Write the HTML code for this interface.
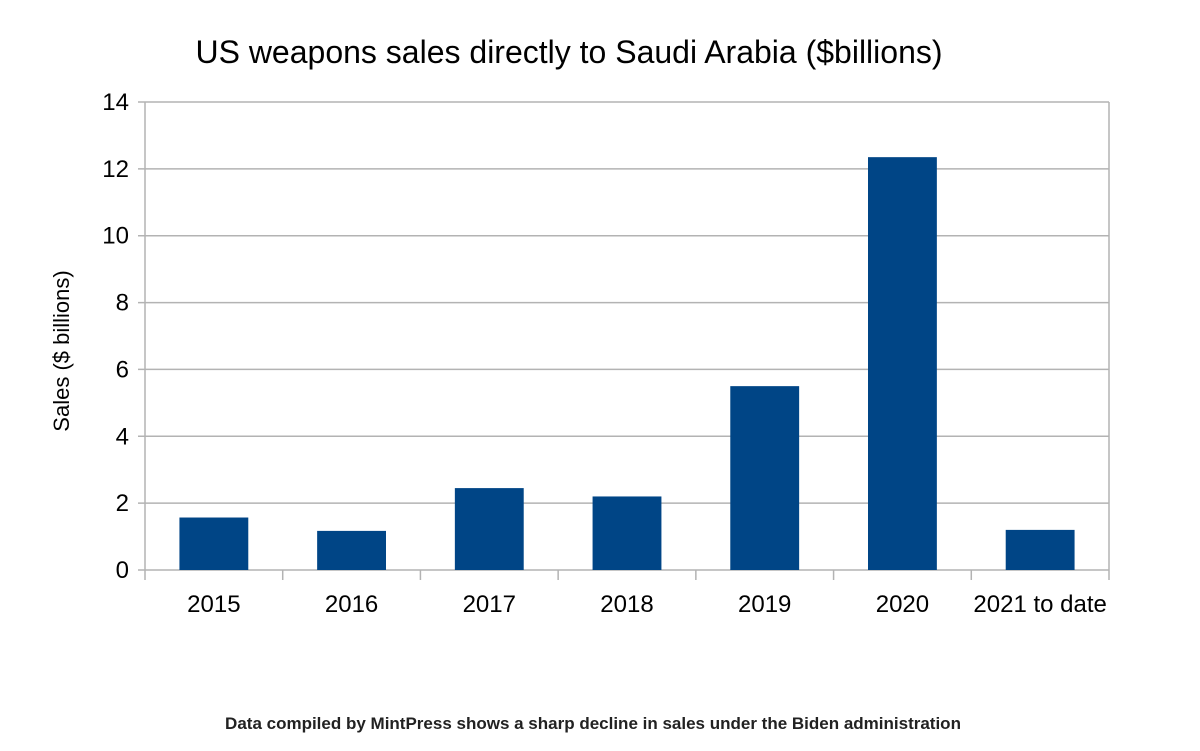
<!DOCTYPE html>
<html><head><meta charset="utf-8"><style>
body{margin:0;background:#fff;}
svg{display:block;font-family:"Liberation Sans",sans-serif;}
</style></head><body>
<svg id="chart" width="1200" height="751">
<text x="569" y="63" font-size="32" text-anchor="middle" fill="#000">US weapons sales directly to Saudi Arabia ($billions)</text>
<text transform="translate(69,351) rotate(-90)" font-size="22" text-anchor="middle" fill="#000">Sales ($ billions)</text>
<g id="grid"></g><g id="bars"></g><g id="axes"></g>
<text x="593" y="729" font-size="17" font-weight="bold" text-anchor="middle" fill="#222">Data compiled by MintPress shows a sharp decline in sales under the Biden administration</text>
</svg>
<script>
const categories=["2015","2016","2017","2018","2019","2020","2021 to date"];
const values=[1.57,1.17,2.45,2.2,5.5,12.35,1.2];
const yTicks=[0,2,4,6,8,10,12,14];
const X0=145,X1=1109,Y0=570,Y1=102,YMAX=14;
const NS="http://www.w3.org/2000/svg";
const y=v=>Y0-(v/YMAX)*(Y0-Y1);
const cw=(X1-X0)/categories.length;
const x=i=>X0+i*cw;
function mk(tag,attrs,parent,text){const e=document.createElementNS(NS,tag);for(const k in attrs)e.setAttribute(k,attrs[k]);if(text!==undefined)e.textContent=text;document.getElementById(parent).appendChild(e);return e;}
yTicks.forEach(t=>{
 const g=mk("line",{x1:X0-7,x2:X1,y1:y(t),y2:y(t),stroke:"#b3b3b3","stroke-width":1.5},"grid");
 
 
 const l=mk("text",{x:129,y:y(t)+8,"font-size":24,"text-anchor":"end",fill:"#000"},"axes",String(t));
 
 
});
mk("line",{x1:X0,x2:X0,y1:Y1,y2:580,stroke:"#b3b3b3","stroke-width":1.5},"axes");
mk("line",{x1:X1,x2:X1,y1:Y1,y2:580,stroke:"#b3b3b3","stroke-width":1.5},"axes");
for(let i=1;i<categories.length;i++){mk("line",{x1:x(i),x2:x(i),y1:Y0,y2:580,stroke:"#b3b3b3","stroke-width":1.5},"axes");}
categories.forEach((c,i)=>{
 const bw=cw*0.5;
 const b=mk("rect",{x:x(i)+cw/2-bw/2,y:y(values[i]),width:bw,height:Y0-y(values[i]),fill:"#004586"},"bars");
 
 
 const t=mk("text",{x:x(i)+cw/2,y:612,"font-size":24,"text-anchor":"middle",fill:"#000"},"axes",c);
 
 
});
</script>
</body></html>
